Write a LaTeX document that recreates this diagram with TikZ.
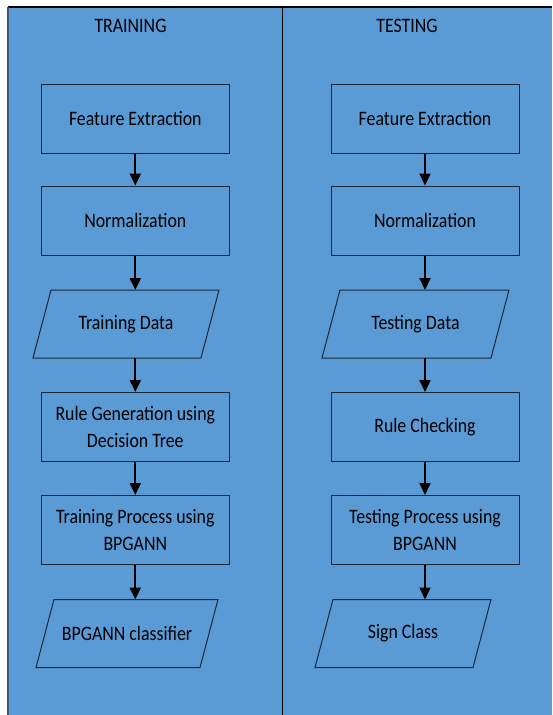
\documentclass[tikz,border=0pt]{standalone}
\usepackage{fontspec}
\setmainfont{Carlito}[FakeStretch=0.87]
\usetikzlibrary{arrows.meta}
\definecolor{panelblue}{RGB}{91,155,213}
\definecolor{edgeline}{RGB}{28,40,55}
\definecolor{sideline}{RGB}{60,90,120}
% slanted outline round a data node
\newcommand{\ioframe}[1]{%
  \draw[draw=edgeline, line width=1pt] ([xshift=9pt]#1.north west) -- ([xshift=9pt]#1.north east)
    -- ([xshift=-9pt]#1.south east) -- ([xshift=-9pt]#1.south west) -- cycle;}

\begin{document}
\begin{tikzpicture}[x=1pt, y=-1pt, >={Triangle[width=11pt,length=12pt]},
    font=\fontsize{20.5}{27.5}\selectfont,
    procbox/.style={draw=edgeline, line width=1pt, fill=panelblue, minimum width=188pt, minimum height=69pt, align=center, inner sep=2pt},
    iobox/.style={minimum width=#1, minimum height=68pt, align=center, inner sep=0pt, outer sep=0pt},
    flow/.style={->, line width=2pt}]
  \useasboundingbox (0,0) rectangle (552,715);
  % ================================================================ panel and column split
  \fill[panelblue] (8,7) rectangle (552,715);
  \draw[line width=1.2pt] (8,7) -- (552,7);
  \draw[sideline, line width=1.2pt] (8,7) -- (8,715);
  \draw[line width=1pt] (282.5,7) -- (282.5,715);
  \node (trainhead) at (130.5,26) {TRAINING};
  \node (testhead) at (407,26) {TESTING};
  \coordinate (colL) at (135.3,0);
  \coordinate (colR) at (425,0);
  % ================================================================ training column
  \node[procbox] (fe1) at (135.3,118.5) {Feature Extraction};
  \node[procbox] (nm1) at (135.3,220.5) {Normalization};
  \node[iobox=168pt] (td1) at (126,324) {Training Data};
  \node[procbox] (rg1) at (135.3,427) {Rule Generation using\\Decision Tree};
  \node[procbox] (tp1) at (135.3,530) {Training Process using\\BPGANN};
  \node[iobox=164pt] (bc1) at (127,633.5) {BPGANN classifier};
  % ================================================================ testing column
  \node[procbox] (fe2) at (425,118.5) {Feature Extraction};
  \node[procbox] (nm2) at (425,220.5) {Normalization};
  \node[iobox=169pt] (td2) at (415.5,324) {Testing Data};
  \node[procbox] (rc2) at (425,427) {Rule Checking};
  \node[procbox] (tp2) at (425,530) {Testing Process using\\BPGANN};
  \node[iobox=158pt] (sc2) at (403,633.5) {Sign Class};
  \foreach \n in {td1,bc1,td2,sc2} \ioframe{\n};
  % arrows
  \foreach \a/\b in {fe1/nm1, nm1/td1, td1/rg1, rg1/tp1, tp1/bc1}
    \draw[flow] (\a.south -| colL) -- (\b.north -| colL);
  \foreach \a/\b in {fe2/nm2, nm2/td2, td2/rc2, rc2/tp2, tp2/sc2}
    \draw[flow] (\a.south -| colR) -- (\b.north -| colR);
\end{tikzpicture}
\end{document}
